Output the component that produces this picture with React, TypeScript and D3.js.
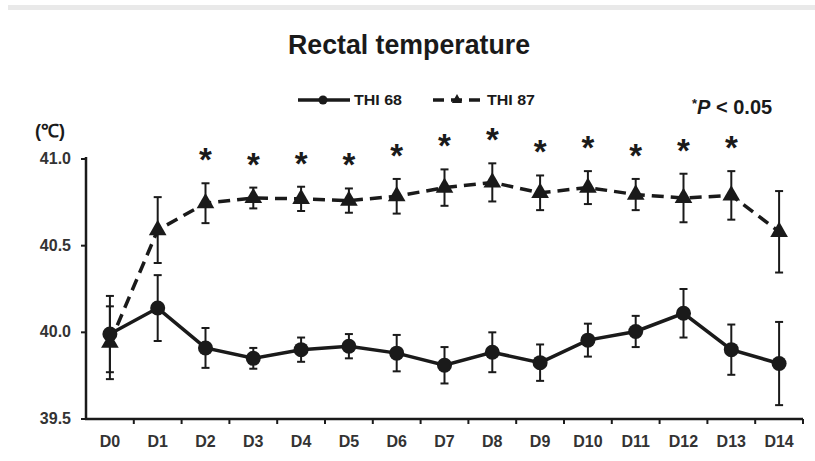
import React from "react";
import * as d3 from "d3";

const days = ["D0","D1","D2","D3","D4","D5","D6","D7","D8","D9","D10","D11","D12","D13","D14"];
const thi68Mean = [39.99,40.14,39.91,39.85,39.90,39.92,39.88,39.81,39.885,39.825,39.955,40.005,40.11,39.90,39.82];
const thi68Err  = [0.22,0.19,0.115,0.06,0.07,0.07,0.105,0.105,0.115,0.105,0.095,0.09,0.14,0.145,0.24];
const thi87Mean = [39.94,40.59,40.745,40.775,40.77,40.76,40.785,40.835,40.865,40.805,40.835,40.795,40.775,40.79,40.58];
const thi87Err  = [0.21,0.19,0.115,0.06,0.07,0.07,0.1,0.105,0.11,0.1,0.095,0.09,0.14,0.14,0.235];
const significant = [false,false,true,true,true,true,true,true,true,true,true,true,true,true,false];
const yTicks = [39.5,40.0,40.5,41.0];

const FONT = "'Liberation Sans Narrow', 'Liberation Sans', Arial, sans-serif";
const INK = "#1a1a1a";

export default function App() {
  const W = 815, H = 461;
  const left = 86, right = 803, top = 159, bottom = 419;
  const x = d3.scaleBand<string>().domain(days).range([left, right]).padding(0);
  const y = d3.scaleLinear().domain([39.5, 41.0]).range([bottom, top]);
  const cx = (d: string) => (x(d) as number) + x.bandwidth() / 2;
  const line = d3.line<number>().x((_, i) => cx(days[i])).y(v => y(v));
  const tri = d3.symbol().type(d3.symbolTriangle).size(135)() as string;
  const triSmall = d3.symbol().type(d3.symbolTriangle).size(45)() as string;
  const cap = 4;

  const errBars = (mean: number[], err: number[], key: string) =>
    mean.map((m, i) => {
      const xc = cx(days[i]);
      const y1 = y(m + err[i]), y2 = y(m - err[i]);
      return (
        <g key={key + i} stroke={INK} strokeWidth={2}>
          <line x1={xc} x2={xc} y1={y1} y2={y2} />
          <line x1={xc - cap} x2={xc + cap} y1={y1} y2={y1} />
          <line x1={xc - cap} x2={xc + cap} y1={y2} y2={y2} />
        </g>
      );
    });

  return (
    <svg width={W} height={H} style={{ position: "absolute", left: 0, top: 0, background: "#fff" }} fontFamily={FONT}>
      <rect x={8} y={5} width={W - 8} height={5} fill="#e9e9e9" />
      <text x={288} y={54} fontSize={27} fontWeight="bold" fill={INK} textLength={242} lengthAdjust="spacingAndGlyphs">Rectal temperature</text>

      {/* legend */}
      <line x1={298} x2={350} y1={100} y2={100} stroke={INK} strokeWidth={3.5} />
      <circle cx={323} cy={100} r={4.5} fill={INK} />
      <text x={354} y={105} fontSize={15} fontWeight="bold" fill={INK} textLength={48} lengthAdjust="spacingAndGlyphs">THI 68</text>
      <line x1={433} x2={483} y1={100} y2={100} stroke={INK} strokeWidth={3.5} strokeDasharray="11,7" />
      <path d={triSmall} transform="translate(457,100)" fill={INK} />
      <text x={487} y={105} fontSize={15} fontWeight="bold" fill={INK} textLength={48} lengthAdjust="spacingAndGlyphs">THI 87</text>

      <text x={692} y={114} fontSize={20} fontWeight="bold" fill={INK}>
        <tspan fontSize={13} dy={-6}>*</tspan>
        <tspan fontStyle="italic" dy={6}>P</tspan>
        <tspan> &lt; 0.05</tspan>
      </text>

      <text x={35} y={137} fontSize={18} fontWeight="bold" fill={INK}>(℃)</text>

      {/* axes */}
      <line x1={left} x2={left} y1={top - 2} y2={bottom} stroke={INK} strokeWidth={2.5} />
      <line x1={left - 1} x2={right} y1={bottom} y2={bottom} stroke={INK} strokeWidth={2.5} />
      {yTicks.map(t => (
        <g key={"yt" + t}>
          <line x1={left - 5} x2={left} y1={y(t)} y2={y(t)} stroke={INK} strokeWidth={2} />
          <text x={71} y={y(t) + 5} textAnchor="end" fontSize={16} fontWeight="bold" fill="#333">{t.toFixed(1)}</text>
        </g>
      ))}
      {days.map((d) => (
        <line key={"xt" + d} x1={(x(d) as number) + x.bandwidth()} x2={(x(d) as number) + x.bandwidth()} y1={bottom} y2={bottom + 5} stroke={INK} strokeWidth={2} />
      ))}
      {days.map(d => (
        <text key={"xl" + d} x={cx(d)} y={447} textAnchor="middle" fontSize={16} fontWeight="bold" fill="#333">{d}</text>
      ))}

      {/* series */}
      {errBars(thi68Mean, thi68Err, "a")}
      {errBars(thi87Mean, thi87Err, "b")}
      <path d={line(thi87Mean) as string} fill="none" stroke={INK} strokeWidth={3.5} strokeDasharray="12,7" />
      <path d={line(thi68Mean) as string} fill="none" stroke={INK} strokeWidth={3.5} />
      {thi68Mean.map((m, i) => (
        <circle key={"c" + i} cx={cx(days[i])} cy={y(m)} r={7.5} fill={INK} />
      ))}
      {thi87Mean.map((m, i) => (
        <path key={"t" + i} d={tri} transform={`translate(${cx(days[i])},${y(m)})`} fill={INK} />
      ))}

      {/* significance */}
      {thi87Mean.map((m, i) => significant[i] ? (
        <text key={"s" + i} x={cx(days[i])} y={y(m + thi87Err[i]) - 12} textAnchor="middle" fontSize={33} fontWeight="bold" fill={INK}>*</text>
      ) : null)}
    </svg>
  );
}
